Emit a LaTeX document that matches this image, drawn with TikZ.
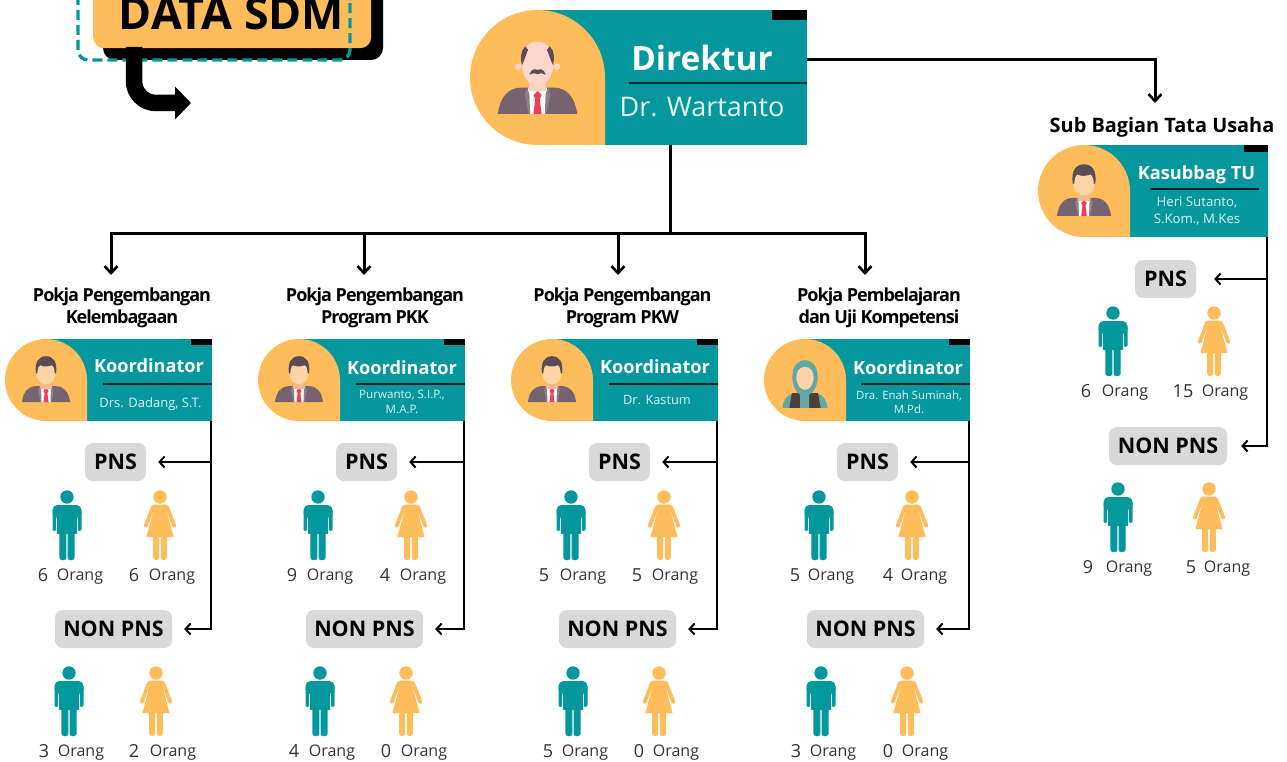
\documentclass[tikz,border=0pt]{standalone}
\usepackage{fontspec}
\setmainfont{Open Sans}
\usetikzlibrary{arrows.meta,calc}
\definecolor{tealc}{HTML}{04989E}
\definecolor{orangec}{HTML}{FFBC5A}
\definecolor{grayc}{HTML}{D9D9D9}
\definecolor{suitc}{HTML}{75646F}
\definecolor{suitl}{HTML}{8F8088}
\definecolor{tiec}{HTML}{EF3F56}
\definecolor{hairc}{HTML}{5B4C58}
\definecolor{facec}{HTML}{FDD3A8}
\definecolor{neckc}{HTML}{F3B98E}
\definecolor{baldc}{HTML}{FFD6CC}
\definecolor{hijabc}{HTML}{5FA8A5}
\definecolor{dressc}{HTML}{4A4035}
\definecolor{textc}{HTML}{333333}
\newcommand{\fsz}[1]{\fontsize{#1}{#1}\selectfont}
\newcommand{\suitshape}{%
    \fill[suitc] (-29.3,77) .. controls (-28,65) and (-22,57.5) .. (-12,57.5) -- (12,57.5) .. controls (22,57.5) and (28,65) .. (29.3,77) -- cycle;
    \fill[white!92!baldc] (-7,57.5) -- (7,57.5) -- (6,77) -- (-6,77) -- cycle;
    \fill[suitl] (-8,57.5) -- (-9.5,63) -- (-6.5,77) -- (-5.5,77) -- (-6,62) -- cycle;
    \fill[suitl] (8,57.5) -- (9.5,63) -- (6.5,77) -- (5.5,77) -- (6,62) -- cycle;
    \fill[tiec] (0,60) -- (3,63) -- (1.7,66) -- (3,77) -- (-3,77) -- (-1.7,66) -- (-3,63) -- cycle;
}
\tikzset{
  x=1pt,y=-1pt,
  cardbox/.style={draw=none,anchor=north west,inner sep=0pt,outer sep=0pt},
  badge/.style={fill=grayc,rounded corners=8pt,inner sep=0pt,minimum height=38pt,font=\bfseries\fsz{21.5},text=black},
  cardhead/.style={text=white,font=\bfseries\fsz{18.2},inner sep=0pt},
  cardsub/.style={text=white!88!tealc,font=\fsz{13},inner sep=0pt,align=center},
  pokjatitle/.style={font=\bfseries\fsz{18}\addfontfeature{LetterSpace=-5.5},inner sep=0pt,align=center,text=black},
  countnum/.style={font=\fsz{18},text=textc,inner sep=0pt},
  countword/.style={font=\fsz{16},text=textc,inner sep=0pt},
  linkmain/.style={draw=black,line width=3pt,-{Straight Barb[length=7pt,width=13pt,line width=2.6pt]}},
  linkplain/.style={draw=black,line width=3pt},
  linktrunk/.style={draw=black,line width=2.6pt,-{Straight Barb[length=5pt,width=11pt,line width=2pt]}},
  linkside/.style={draw=black,line width=2pt,-{Straight Barb[length=5pt,width=11pt,line width=2pt]}},
  pics/figm/.style={code={
    \fill[tealc] (0,7) circle[radius=6.7];
    \fill[tealc,rounded corners=5pt] (-14.5,15) rectangle (14.5,28);
    \fill[tealc,rounded corners=2pt] (-14.5,20) rectangle (-10.8,41);
    \fill[tealc,rounded corners=2pt] (10.8,20) rectangle (14.5,41);
    \fill[tealc] (-9.8,18) rectangle (9.8,44);
    \fill[tealc,rounded corners=2.5pt] (-7.6,38) rectangle (-0.6,70);
    \fill[tealc,rounded corners=2.5pt] (0.6,38) rectangle (7.6,70);
  }},
  pics/figw/.style={code={
    \fill[orangec] (0,7) circle[radius=6.7];
    \fill[orangec,rounded corners=2.5pt] (-8,14.5) rectangle (8,20);
    \fill[orangec] (-5.6,17) -- (5.6,17) -- (13.5,47) -- (-13.5,47) -- cycle;
    \draw[orangec,line width=3.8pt,line cap=round] (-7,17) -- (-14.4,36);
    \draw[orangec,line width=3.8pt,line cap=round] (7,17) -- (14.4,36);
    \fill[orangec,rounded corners=2.5pt] (-6.8,42) rectangle (-0.8,70);
    \fill[orangec,rounded corners=2.5pt] (0.8,42) rectangle (6.8,70);
  }},
  pics/avbald/.style={code={
    \suitshape
    \fill[baldc!85!neckc] (-6,48) rectangle (6,60);
    \fill[baldc] (-14.4,42) circle[radius=2.4];
    \fill[baldc] (14.4,42) circle[radius=2.4];
    \fill[baldc] (0,23.5) .. controls (-9,23.5) and (-11.7,31) .. (-11.7,40) .. controls (-11.7,50) and (-6,55.6) .. (0,55.6) .. controls (6,55.6) and (11.7,50) .. (11.7,40) .. controls (11.7,31) and (9,23.5) .. (0,23.5) -- cycle;
    \fill[hairc] (-9,27) .. controls (-13,30) and (-12.5,37) .. (-11.5,41) .. controls (-10,38) and (-8.5,33) .. (-7,29.5) -- cycle;
    \fill[hairc] (9,27) .. controls (13,30) and (12.5,37) .. (11.5,41) .. controls (10,38) and (8.5,33) .. (7,29.5) -- cycle;
    \fill[hairc] (0,44.5) .. controls (-2,43) and (-5,44) .. (-6,48) .. controls (-4,46.5) and (-2,46.5) .. (0,47.5) .. controls (2,46.5) and (4,46.5) .. (6,48) .. controls (5,44) and (2,43) .. (0,44.5) -- cycle;
  }},
  pics/avhair/.style={code={
    \suitshape
    \fill[neckc] (-6,48) rectangle (6,61);
    \fill[facec] (-11,32) -- (11,32) -- (11,46) .. controls (10,52) and (5,55) .. (0,55) .. controls (-5,55) and (-10,52) .. (-11,46) -- cycle;
    \fill[hairc] (-12.3,42) .. controls (-14,28) and (-9,21) .. (0,21) .. controls (9,21) and (14,28) .. (12.3,42) -- (10.5,42) .. controls (10.5,37) and (9.5,33) .. (7,32) .. controls (2,34) and (-4,34) .. (-7,32) .. controls (-9.5,33) and (-10.5,37) .. (-10.5,42) -- cycle;
  }},
  pics/avhijab/.style={code={
    \fill[hijabc] (-27.5,84) .. controls (-27,75) and (-22,68) .. (-14,66) -- (14,66) .. controls (22,68) and (27,75) .. (27.5,84) -- cycle;
    \fill[dressc] (-19,84) -- (-16,66) -- (16,66) -- (19,84) -- cycle;
    \fill[hijabc] (0,26) .. controls (-10,26) and (-15.4,34) .. (-15.4,46) .. controls (-15.4,56) and (-12,64) .. (-6,68) -- (-6,84) -- (5,84) -- (5,68) .. controls (12,64) and (15.4,56) .. (15.4,46) .. controls (15.4,34) and (10,26) .. (0,26) -- cycle;
    \fill[facec] (0,34) .. controls (-7,34) and (-10.5,40) .. (-10.5,47) .. controls (-10.5,56) and (-5,62) .. (0,62) .. controls (5,62) and (10.5,56) .. (10.5,47) .. controls (10.5,40) and (7,34) .. (0,34) -- cycle;
  }},
}
% id, x0, y0, x1, h, avatar pic
\newcommand{\personcard}[6]{%
  \pgfmathsetmacro{\cardw}{#4-#2}%
  \pgfmathsetmacro{\cardr}{#5/2}%
  \pgfmathsetmacro{\tabw}{#5*0.26}%
  \pgfmathsetmacro{\tabh}{#5*0.075}%
  \pgfmathsetmacro{\figx}{#2+#5/2}%
  \pgfmathsetmacro{\figs}{#5/100}%
  \node[cardbox,minimum width=\cardw pt,minimum height=#5 pt] (#1) at (#2,#3) {};
  \fill[tealc] (\figx,#3) rectangle (#4,#3+#5);
  \fill[orangec] ($(#2,#3)+(\cardr,0)$) arc[start angle=-90,end angle=0,radius=\cardr] -- ($(#2,#3)+(#5,#5)$) -- ($(#2,#3)+(\cardr,#5)$) arc[start angle=90,end angle=270,radius=\cardr] -- cycle;
  \fill[black] (#4-\tabw,#3) rectangle (#4,#3+\tabh);
  \pic[scale=\figs] at (\figx,#3) {#6};
}
\newcounter{lblcount}
% manx womanx ytop numx1 n1 wordx1 numx2 n2 wordx2
\newcommand{\peoplerow}[9]{%
  \pic at (#1,#3) {figm};
  \pic at (#2,#3) {figw};
  \stepcounter{lblcount}%
  \node[countnum] (na\thelblcount) at (#4,#3+85) {#5};
  \node[countword] (wa\thelblcount) at (#6,#3+87) {Orang};
  \node[countnum] (nb\thelblcount) at (#7,#3+85) {#8};
  \node[countword] (wb\thelblcount) at (#9,#3+87) {Orang};
}
% id, pns cx, non cx
\newcommand{\badges}[3]{%
  \node[badge,minimum width=61pt] (#1pns) at (#2,462) {PNS};
  \node[badge,minimum width=117pt] (#1non) at (#3,629) {NON PNS};
  \draw[linktrunk] ([xshift=-1pt]#1.south east) |- ([xshift=12pt]#1non.east);
  \draw[linkside] ([xshift=-1pt]#1.south east |- #1pns.east) -- ([xshift=12pt]#1pns.east);
}
\begin{document}
\begin{tikzpicture}
\useasboundingbox (0,0) rectangle (1287,762);
\clip (0,0) rectangle (1287,762);
\fill[white] (0,0) rectangle (1287,762);

% DATA SDM
\fill[black,rounded corners=12pt] (103,-40) rectangle (383,60);
\node[fill=orangec,rounded corners=11pt,inner sep=0pt,minimum width=278pt,minimum height=88pt,anchor=north west] (sdm) at (93,-40) {};
\node[anchor=base,inner sep=0pt,font=\bfseries\fsz{44.8},text=black] (sdmtext) at (231.5,30) {DATA SDM};
\draw[tealc,line width=3.3pt,dash pattern=on 10pt off 5pt,rounded corners=10pt] (78,-20) -- (78,60) -- (350,60) -- (350,-20);
\coordinate (sdmout) at (134,47);
\coordinate (sdmend) at (191,103);
\draw[black,line width=16.5pt,rounded corners=22pt,-{Triangle[length=16pt,width=32pt]}] (sdmout) -- (134,103) -- (sdmend);

% Direktur
\personcard{dir}{470}{10}{807}{135}{avbald}
\node[text=white,font=\bfseries\fsz{33.4},inner sep=0pt] (dirhead) at (702,58) {Direktur};
\draw[black!70!tealc,line width=1.4pt] (629,83) -- (807,83);
\node[text=white!90!tealc,font=\fsz{27},inner sep=0pt] (dirname) at (702,107) {Dr. Wartanto};

% Sub bagian
\node[font=\bfseries\fsz{19.9},text=black,inner sep=0pt] (subtitle) at (1162,127) {Sub Bagian Tata Usaha};
\personcard{kas}{1038}{145}{1268}{92}{avhair}
\node[cardhead] (kashead) at (1196.5,175) {Kasubbag TU};
\draw[black!80!tealc,line width=1.2pt] (1150,189) -- (1259,189);
\node[cardsub,font=\fsz{13.2}] (kasname) at (1197,211) {Heri Sutanto,\\[4pt]S.Kom., M.Kes};
\node[badge,minimum width=61pt] (kaspns) at (1165.5,279) {PNS};
\node[badge,minimum width=118pt] (kasnon) at (1168,446) {NON PNS};
\draw[linktrunk] ([xshift=-1pt]kas.south east) |- ([xshift=14pt]kasnon.east);
\draw[linkside] ([xshift=-1pt]kas.south east |- kaspns.east) -- ([xshift=18pt]kaspns.east);
\peoplerow{1113}{1214}{306}{1086}{6}{1125}{1183}{15}{1225}
\peoplerow{1118}{1209}{482}{1088}{9}{1129}{1191}{5}{1227}

% Pokja cards
\personcard{pa}{5}{339}{212}{82}{avhair}
\personcard{pb}{258}{339}{465}{82}{avhair}
\personcard{pc}{511}{339}{718}{82}{avhair}
\personcard{pd}{764}{339}{970}{82}{avhijab}

\node[pokjatitle] (ta) at (122,308) {Pokja Pengembangan\\[4pt]Kelembagaan};
\node[pokjatitle] (tb) at (375,308) {Pokja Pengembangan\\[4pt]Program PKK};
\node[pokjatitle] (tc) at (622.5,308) {Pokja Pengembangan\\[4pt]Program PKW};
\node[pokjatitle] (td) at (879,308) {Pokja Pembelajaran\\[4pt]dan Uji Kompetensi};

\node[cardhead] (ha) at (149,366) {Koordinator};
\node[cardhead] (hb) at (402,368) {Koordinator};
\node[cardhead] (hc) at (655,367) {Koordinator};
\node[cardhead] (hd) at (908,368) {Koordinator};
\draw[black!80!tealc,line width=1.2pt] (103,384) -- (212,384);
\draw[black!80!tealc,line width=1.2pt] (356,384) -- (465,384);
\draw[black!80!tealc,line width=1.2pt] (609,384) -- (718,384);
\draw[black!80!tealc,line width=1.2pt] (861,384) -- (970,384);
\node[cardsub] (sa) at (150.5,404.5) {Drs. Dadang, S.T.};
\node[cardsub,font=\fsz{11.6}] (sb) at (402,402) {Purwanto, S.I.P.,\\[3pt]M.A.P.};
\node[cardsub,font=\fsz{12.8}] (sc) at (657,400.5) {Dr. Kastum};
\node[cardsub,font=\fsz{11.4}] (sd) at (909,402) {Dra. Enah Suminah,\\[3pt]M.Pd.};

\badges{pa}{115.5}{113.5}
\badges{pb}{366.5}{364.5}
\badges{pc}{619.5}{617.5}
\badges{pd}{867.5}{865.5}

\peoplerow{67}{160}{490}{43}{6}{80}{134}{6}{172}
\peoplerow{69}{156}{666}{44}{3}{81}{134}{2}{173}
\peoplerow{318}{411}{490}{292}{9}{330}{385}{4}{423}
\peoplerow{320}{406}{666}{294}{4}{332}{386}{0}{424}
\peoplerow{571}{664}{490}{544}{5}{583}{637}{5}{675}
\peoplerow{573}{659}{666}{548}{5}{585}{639}{0}{676}
\peoplerow{819}{912}{490}{795}{5}{831}{888}{4}{924}
\peoplerow{821}{907}{666}{796}{3}{833}{888}{0}{925}

% Connectors
\coordinate (hub) at (670,233);
\draw[linkplain] (hub |- dir.south) -- (hub);
\coordinate (ja) at (111,233);
\coordinate (jb) at (364,233);
\coordinate (jc) at (618,233);
\coordinate (jd) at (865,233);
\coordinate (ea) at (111,275);
\coordinate (eb) at (364,275);
\coordinate (ec) at (618,275);
\coordinate (ed) at (865,275);
\draw[linkmain] (hub) -- (ja) -- (ea);
\draw[linkmain] (hub) -- (jb) -- (eb);
\draw[linkmain] (hub) -- (jc) -- (ec);
\draw[linkmain] (hub) -- (jd) -- (ed);
\coordinate (subout) at (807,60);
\coordinate (subin) at (1155,103);
\draw[linkmain] (subout) -| (subin);
\end{tikzpicture}
\end{document}
